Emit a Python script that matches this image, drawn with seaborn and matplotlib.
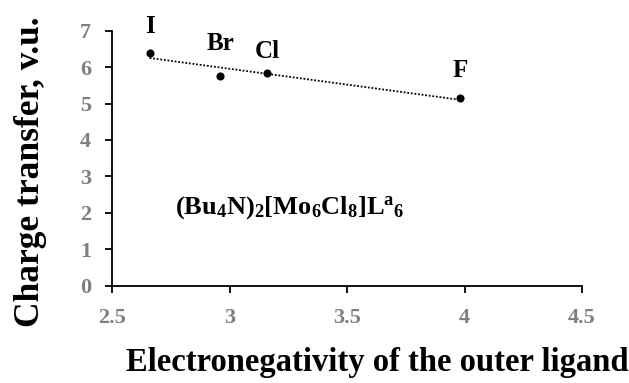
import matplotlib
matplotlib.use("Agg")
import matplotlib.pyplot as plt
import seaborn as sns
import pandas as pd

ligands = ["I", "Br", "Cl", "F"]
electronegativity = [2.66, 2.96, 3.16, 3.98]
charge_transfer = [6.40, 5.77, 5.85, 5.14]
x_ticks = [2.5, 3, 3.5, 4, 4.5]
x_tick_labels = ["2.5", "3", "3.5", "4", "4.5"]
y_ticks = [0, 1, 2, 3, 4, 5, 6, 7]

df = pd.DataFrame({"en": electronegativity, "ct": charge_transfer, "lig": ligands})

sns.set_style("white")
plt.rcParams["font.family"] = ["Liberation Serif", "DejaVu Serif"]
plt.rcParams["mathtext.default"] = "regular"

fig = plt.figure(figsize=(6.29, 3.83), dpi=100)
ax = fig.add_axes([112 / 629, 1 - 285.7 / 383, 470 / 629, 255 / 383])

sns.regplot(data=df, x="en", y="ct", ax=ax, ci=None, truncate=True,
            scatter_kws=dict(color="black", s=34, linewidths=0, zorder=3, alpha=1),
            line_kws=dict(color="black", linestyle=(0, (1, 1.0)), linewidth=1.3))

offsets = [(0, 19), (0, 23), (0, 15), (0, 20)]
for (_, r), off in zip(df.iterrows(), offsets):
    ax.annotate(r["lig"], (r["en"], r["ct"]), xytext=off, textcoords="offset points",
                ha="center", va="center", fontsize=18, fontweight="bold", color="black")

ax.text(2.77, 2.15, r"(Bu$_4$N)$_2$[Mo$_6$Cl$_8$]L$^a$$_6$", fontsize=19,
        fontweight="bold", ha="left", va="center", color="black")

ax.set_xlim(2.5, 4.5)
ax.set_ylim(0, 7)
ax.set_xticks(x_ticks)
ax.set_xticklabels(x_tick_labels)
ax.set_yticks(y_ticks)
for lab in ax.get_xticklabels() + ax.get_yticklabels():
    lab.set_fontweight("bold")
    lab.set_color("#7f7f7f")
    lab.set_fontsize(16)
ax.tick_params(axis="both", direction="out", length=5, width=1.3, color="black",
               bottom=True, left=True)
ax.tick_params(axis="x", pad=11)
ax.tick_params(axis="y", pad=10)
sns.despine(ax=ax)
for s in ["left", "bottom"]:
    ax.spines[s].set_color("black")
    ax.spines[s].set_linewidth(1.3)

ax.set_xlabel("Electronegativity of the outer ligand", fontsize=23.5, fontweight="bold",
              color="black")
ax.set_ylabel("Charge transfer, v.u.", fontsize=25.5, fontweight="bold", color="black")
ax.xaxis.set_label_coords((377 - 112) / 470, (285.7 - 362) / 255)
ax.yaxis.set_label_coords((31 - 112) / 470, (285.7 - 172) / 255)
ax.xaxis.label.set_va("center")
ax.yaxis.label.set_va("center")

fig.savefig("out.png", dpi=100)
